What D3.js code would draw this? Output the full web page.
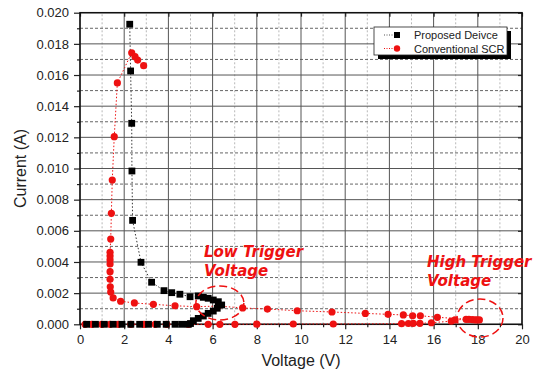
<!DOCTYPE html>
<html>
<head>
<meta charset="utf-8">
<script src="https://cdn.jsdelivr.net/npm/d3@7"></script>
<style>
  body { margin: 0; background: #fff; }
  svg { font-family: "Liberation Sans", Arial, sans-serif; }
</style>
</head>
<body>
<div id="chart"></div>
<script>
// Proposed device (black squares), in drawing order
const propV = [0.3, 0.7, 1.1, 1.5, 1.9, 2.3, 2.7, 3.1, 3.5, 3.9, 4.3, 4.6, 4.9, 5.0,
  5.13, 5.35, 5.58, 5.8, 6.03, 6.21, 6.41, 6.26, 6.03, 5.8, 5.58, 5.35,
  4.98, 4.52, 4.15, 3.80, 3.24, 2.76, 2.38, 2.35, 2.34, 2.29, 2.25];
const propI = [0, 0, 0, 0, 0, 0, 0, 0, 0, 0, 0, 0, 0, 0.00005,
  0.00023, 0.00038, 0.00053, 0.0007, 0.00085, 0.00103, 0.00124, 0.00145, 0.00156, 0.00167, 0.00173, 0.00182,
  0.00177, 0.00193, 0.00203, 0.00216, 0.0027, 0.00398, 0.00667, 0.00984, 0.0129, 0.01626, 0.01926];

// Conventional SCR (red circles), in drawing order
const scrV = [0.23, 0.53, 0.98, 1.36, 1.73, 2.3, 2.9, 3.4, 3.92, 4.9, 5.8, 6.33, 7.01, 8.0, 9.65, 11.46,
  14.55, 14.86, 15.08, 15.38, 15.9, 16.8,
  16.97, 17.47, 17.6, 17.75, 17.87, 17.97, 18.07,
  16.17, 15.4, 15.05, 14.63, 13.94, 12.91, 11.4, 9.83, 8.48, 7.36, 6.26, 5.28, 4.3, 3.32, 2.46, 1.84, 1.5,
  1.39, 1.37, 1.36, 1.36, 1.36, 1.36, 1.36, 1.36, 1.39, 1.42, 1.46, 1.55, 1.69,
  2.34, 2.49, 2.61, 2.88];
const scrI = [0, 0, 0, 0, 0, 0, 0, 0, 0, 0, 0, 0, 0, 0.00001, 0.00002, 0.00002,
  0.00004, 0.00005, 0.00006, 0.00006, 0.0001, 0.0002,
  0.00028, 0.00032, 0.00031, 0.0003, 0.00028, 0.00028, 0.00028,
  0.00045, 0.00055, 0.00055, 0.0006, 0.00064, 0.0007, 0.00079, 0.00087, 0.00098, 0.00105, 0.00117, 0.00113, 0.00119, 0.00128, 0.00137, 0.00148, 0.00169,
  0.00207, 0.00241, 0.00289, 0.00338, 0.00387, 0.00413, 0.00438, 0.00462, 0.00547, 0.00712, 0.00926, 0.01204, 0.01549,
  0.01743, 0.01718, 0.01696, 0.0166];

const seriesNames = ['Proposed Deivce', 'Conventional SCR'];
const xTicks = [0, 2, 4, 6, 8, 10, 12, 14, 16, 18, 20];
const yTicks = [0, 0.002, 0.004, 0.006, 0.008, 0.010, 0.012, 0.014, 0.016, 0.018, 0.020];
const xMinor = [1, 3, 5, 7, 9, 11, 13, 15, 17, 19];
const yMinor = [0.001, 0.003, 0.005, 0.007, 0.009, 0.011, 0.013, 0.015, 0.017, 0.019];

const width = 537;
const height = 377;
const margin = { top: 12.7, right: 15, bottom: 52.7, left: 80 };
const red = '#ee1111';

const x = d3.scaleLinear().domain([0, 20]).range([margin.left, width - margin.right]);
const y = d3.scaleLinear().domain([0, 0.02]).range([height - margin.bottom, margin.top]);

const svg = d3.select('#chart')
  .append('svg')
  .attr('width', width)
  .attr('height', height);

// grid
const grid = svg.append('g');
grid.selectAll('.vminor').data(xMinor).join('line')
  .attr('x1', (d) => x(d)).attr('x2', (d) => x(d))
  .attr('y1', y(0)).attr('y2', y(0.02))
  .attr('stroke', '#b8b8b8').attr('stroke-dasharray', '2,2');
grid.selectAll('.hminor').data(yMinor).join('line')
  .attr('x1', x(0)).attr('x2', x(20))
  .attr('y1', (d) => y(d)).attr('y2', (d) => y(d))
  .attr('stroke', '#666').attr('stroke-dasharray', '3,2');
grid.selectAll('.vmajor').data(xTicks).join('line')
  .attr('x1', (d) => x(d)).attr('x2', (d) => x(d))
  .attr('y1', y(0)).attr('y2', y(0.02))
  .attr('stroke', '#555');
grid.selectAll('.hmajor').data(yTicks).join('line')
  .attr('x1', x(0)).attr('x2', x(20))
  .attr('y1', (d) => y(d)).attr('y2', (d) => y(d))
  .attr('stroke', '#555');

// axes
const fmtY = d3.format('.3f');
const axisStyle = (g) => g
  .call((g) => g.select('.domain').remove())
  .call((g) => g.selectAll('.tick line').attr('stroke', '#222').attr('stroke-width', 1.2))
  .call((g) => g.selectAll('.tick text').attr('font-size', 13).attr('fill', '#222')
    .attr('font-family', '"Liberation Sans", Arial, sans-serif'));

svg.append('g')
  .attr('transform', `translate(0,${y(0)})`)
  .call(d3.axisBottom(x).tickValues(xTicks).tickSize(5).tickPadding(5))
  .call(axisStyle);
svg.append('g')
  .attr('transform', `translate(0,${y(0)})`)
  .call(d3.axisBottom(x).tickValues(xMinor).tickSize(3).tickFormat(''))
  .call(axisStyle);
svg.append('g')
  .attr('transform', `translate(${x(0)},0)`)
  .call(d3.axisLeft(y).tickValues(yTicks).tickSize(6).tickPadding(5).tickFormat(fmtY))
  .call(axisStyle);
svg.append('g')
  .attr('transform', `translate(${x(0)},0)`)
  .call(d3.axisLeft(y).tickValues(yMinor).tickSize(3).tickFormat(''))
  .call(axisStyle);
svg.append('g')
  .attr('transform', `translate(0,${y(0.02)})`)
  .call(d3.axisBottom(x).tickValues(xTicks).tickSize(4).tickFormat(''))
  .call(axisStyle);
svg.append('g')
  .attr('transform', `translate(${x(20)},0)`)
  .call(d3.axisLeft(y).tickValues(yTicks).tickSize(4).tickFormat(''))
  .call(axisStyle);

// frame
svg.append('rect')
  .attr('x', x(0)).attr('y', y(0.02))
  .attr('width', x(20) - x(0)).attr('height', y(0) - y(0.02))
  .attr('fill', 'none').attr('stroke', '#111').attr('stroke-width', 1.5);

// axis titles
svg.append('text')
  .attr('x', (x(0) + x(20)) / 2).attr('y', 366)
  .attr('text-anchor', 'middle').attr('font-size', 16).attr('fill', '#222')
  .text('Voltage (V)');
svg.append('text')
  .attr('transform', `translate(26,${(y(0) + y(0.02)) / 2}) rotate(-90)`)
  .attr('text-anchor', 'middle').attr('font-size', 16).attr('fill', '#222')
  .text('Current (A)');

// series
const prop = propV.map((v, i) => ({ v, i: propI[i] }));
const scr = scrV.map((v, i) => ({ v, i: scrI[i] }));
const line = d3.line().x((d) => x(d.v)).y((d) => y(d.i));

svg.append('path').datum(scr)
  .attr('d', line).attr('fill', 'none')
  .attr('stroke', red).attr('stroke-width', 1).attr('stroke-dasharray', '1.5,2');
svg.append('path').datum(prop)
  .attr('d', line).attr('fill', 'none')
  .attr('stroke', '#333').attr('stroke-width', 1).attr('stroke-dasharray', '1.5,2');

svg.append('g').selectAll('circle').data(scr).join('circle')
  .attr('cx', (d) => x(d.v)).attr('cy', (d) => y(d.i))
  .attr('r', 3.6).attr('fill', red);
svg.append('g').selectAll('rect').data(prop).join('rect')
  .attr('x', (d) => x(d.v) - 3.4).attr('y', (d) => y(d.i) - 3.4)
  .attr('width', 6.8).attr('height', 6.8).attr('fill', '#000');

// annotations
const annot = svg.append('g')
  .attr('fill', red).attr('font-family', '"DejaVu Sans", sans-serif')
  .attr('font-weight', 'bold').attr('font-style', 'italic').attr('font-size', 15);
annot.append('text').attr('x', 204).attr('y', 257).text('Low Trigger');
annot.append('text').attr('x', 204).attr('y', 276).text('Voltage');
annot.append('text').attr('x', 427).attr('y', 267).text('High Trigger');
annot.append('text').attr('x', 427).attr('y', 286).text('Voltage');

svg.append('ellipse')
  .attr('cx', x(6.33)).attr('cy', y(0.00137)).attr('rx', 24).attr('ry', 17)
  .attr('fill', 'none').attr('stroke', red).attr('stroke-width', 1.5).attr('stroke-dasharray', '8,4');
svg.append('ellipse')
  .attr('cx', x(18.1)).attr('cy', y(0.0004)).attr('rx', 23).attr('ry', 19)
  .attr('fill', 'none').attr('stroke', red).attr('stroke-width', 1.5).attr('stroke-dasharray', '8,4');

// legend
const lg = svg.append('g').attr('transform', 'translate(374,27)');
lg.append('rect').attr('x', 4).attr('y', 4).attr('width', 133).attr('height', 28).attr('fill', '#000');
lg.append('rect').attr('x', 0).attr('y', 0).attr('width', 133).attr('height', 28)
  .attr('fill', '#fff').attr('stroke', '#222').attr('stroke-width', 0.8);
seriesNames.forEach((name, k) => {
  const yy = 8 + k * 13.5;
  lg.append('line').attr('x1', 10).attr('x2', 24).attr('y1', yy).attr('y2', yy)
    .attr('stroke', k === 0 ? '#555' : red).attr('stroke-dasharray', '1,1.5');
  if (k === 0) {
    lg.append('rect').attr('x', 20).attr('y', yy - 3).attr('width', 6).attr('height', 6).attr('fill', '#000');
  } else {
    lg.append('circle').attr('cx', 23).attr('cy', yy).attr('r', 3.2).attr('fill', red);
  }
  lg.append('text').attr('x', 40).attr('y', yy + 4).attr('font-size', 11).attr('fill', '#222').text(name);
});
</script>
</body>
</html>
